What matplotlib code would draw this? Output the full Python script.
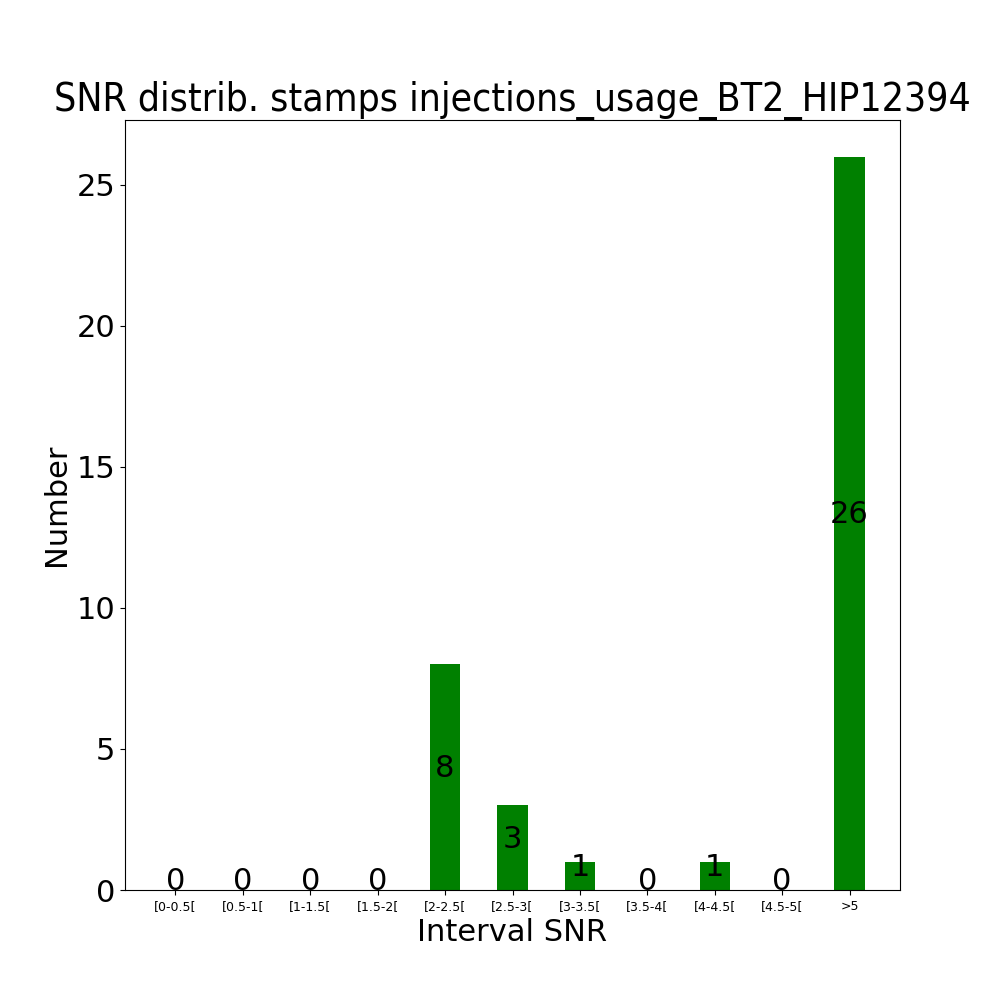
import matplotlib
matplotlib.use("Agg")
import matplotlib.pyplot as plt

intervals = ["[0-0.5[", "[0.5-1[", "[1-1.5[", "[1.5-2[", "[2-2.5[", "[2.5-3[",
             "[3-3.5[", "[3.5-4[", "[4-4.5[", "[4.5-5[", ">5"]
counts = [0, 0, 0, 0, 8, 3, 1, 0, 1, 0, 26]

fig, ax = plt.subplots(figsize=(10, 10), dpi=100)
x = list(range(len(intervals)))
ax.bar(x, counts, width=0.45, color="green")
for xi, c in zip(x, counts):
    ax.text(xi, c / 2, str(c), ha="center", va="baseline", fontsize=22)

ax.set_xticks(x)
ax.set_xticklabels(intervals, fontsize=9)
ax.tick_params(axis="y", labelsize=22)
ax.set_xlabel("Interval SNR", fontsize=22)
ax.set_ylabel("Number", fontsize=22)
ax.set_title("SNR distrib. stamps injections_usage_BT2_HIP12394", fontsize=28,
             family="DejaVu Sans", fontstretch="condensed")

fig.savefig("out.png", dpi=100)
